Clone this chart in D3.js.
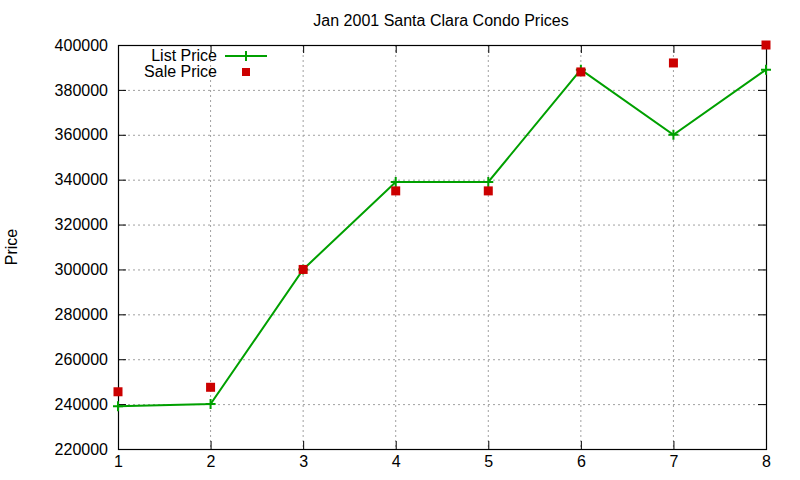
<!DOCTYPE html>
<html><head><meta charset="utf-8">
<script src="https://cdn.jsdelivr.net/npm/d3@7"></script>
<style>
body{margin:0;background:#fff;}
text{font-family:"Liberation Sans",Arial,sans-serif;fill:#000;}
</style></head>
<body>
<svg id="c" width="800" height="480"></svg>
<script>
const xValues = [1,2,3,4,5,6,7,8];
const listPrice = [239000,240000,300000,339000,339000,389000,360000,389000];
const salePrice = [245500,247500,300000,335000,335000,388000,392000,400000];
const yTicks = [220000,240000,260000,280000,300000,320000,340000,360000,380000,400000];
const xTicks = [1,2,3,4,5,6,7,8];
const title = "Jan 2001 Santa Clara Condo Prices";
const yLabel = "Price";
const seriesNames = ["List Price","Sale Price"];

const svg = d3.select("#c");
const L=118,R=766,T=45,B=449;
const x = d3.scaleLinear().domain([1,8]).range([L,R]);
const y = d3.scaleLinear().domain([220000,400000]).range([B,T]);
const green="#00a000", red="#cc0000";

// grid
const g = svg.append("g");
g.selectAll(".gx").data(xTicks.slice(1,-1)).enter().append("line")
 .attr("x1",d=>x(d)).attr("x2",d=>x(d)).attr("y1",T).attr("y2",B)
 .attr("stroke","#a0a0a0").attr("stroke-dasharray","2,3").attr("stroke-width",1);
g.selectAll(".gy").data(yTicks.slice(1,-1)).enter().append("line")
 .attr("x1",L).attr("x2",R).attr("y1",d=>y(d)+0.5).attr("y2",d=>y(d)+0.5)
 .attr("stroke","#a0a0a0").attr("stroke-dasharray","2,3").attr("stroke-width",1);

// axes (ticks inward)
const ax = svg.append("g").attr("transform",`translate(0,${B})`)
 .call(d3.axisBottom(x).tickValues(xTicks).tickSizeInner(-8).tickSizeOuter(0).tickPadding(7).tickFormat(d3.format("d")));
const ay = svg.append("g").attr("transform",`translate(${L},0)`)
 .call(d3.axisLeft(y).tickValues(yTicks).tickSizeInner(-8).tickSizeOuter(0).tickPadding(10).tickFormat(d3.format("d")));
const ax2 = svg.append("g").attr("transform",`translate(0,${T})`)
 .call(d3.axisTop(x).tickValues(xTicks).tickSizeInner(-8).tickSizeOuter(0).tickFormat(""));
const ay2 = svg.append("g").attr("transform",`translate(${R},0)`)
 .call(d3.axisRight(y).tickValues(yTicks).tickSizeInner(-8).tickSizeOuter(0).tickFormat(""));
[ax,ay,ax2,ay2].forEach(a=>{
  a.select(".domain").remove();
  a.selectAll("line").attr("stroke","#000");
  a.selectAll("text").style("font-size","16px").attr("font-family","Liberation Sans, Arial, sans-serif");
});
svg.append("rect").attr("x",L+0.5).attr("y",T+0.5).attr("width",R-L).attr("height",B-T)
 .attr("fill","none").attr("stroke","#000").attr("stroke-width",1.2);

// List line
const pts = xValues.map((v,i)=>[v,listPrice[i]]);
svg.append("path").datum(pts)
 .attr("d",d3.line().x(d=>x(d[0])).y(d=>y(d[1])))
 .attr("fill","none").attr("stroke",green).attr("stroke-width",2);
const plus = (sel,cx,cy)=>{
  sel.append("path").attr("d",`M${cx-5},${cy}H${cx+5}M${cx},${cy-5}V${cy+5}`)
   .attr("stroke",green).attr("stroke-width",2);
};
pts.forEach(d=>plus(svg,x(d[0]),y(d[1])));

// Sale points
svg.selectAll(".sale").data(xValues.map((v,i)=>[v,salePrice[i]])).enter().append("rect")
 .attr("x",d=>x(d[0])-4.5).attr("y",d=>y(d[1])-4.5).attr("width",9).attr("height",9).attr("fill",red);

// legend
svg.append("text").attr("x",217).attr("y",61).attr("text-anchor","end").style("font-size","16px").text(seriesNames[0]);
svg.append("text").attr("x",217).attr("y",77).attr("text-anchor","end").style("font-size","16px").text(seriesNames[1]);
svg.append("line").attr("x1",225).attr("x2",267).attr("y1",56).attr("y2",56).attr("stroke",green).attr("stroke-width",2);
plus(svg,246,56);
svg.append("rect").attr("x",242).attr("y",68).attr("width",8).attr("height",8).attr("fill",red);

// title & label
svg.append("text").attr("x",441).attr("y",26).attr("text-anchor","middle").style("font-size","16px").text(title);
svg.append("text").attr("transform","translate(17,247) rotate(-90)").attr("text-anchor","middle").style("font-size","16px").text(yLabel);
</script>
</body></html>
